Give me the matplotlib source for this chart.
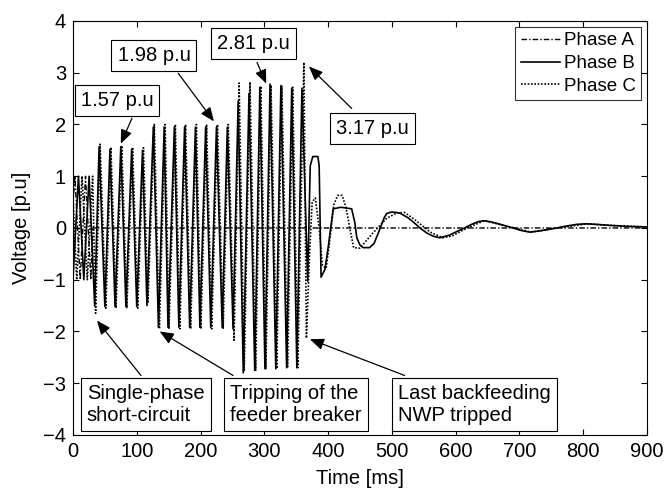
import matplotlib
matplotlib.use("Agg")
import matplotlib.pyplot as plt

plt.rcParams['font.family'] = ['Liberation Sans', 'DejaVu Sans']

#phase A: pre-fault sine then held at zero
time_a = [0, 3, 11.3, 19.7, 28, 31, 900]
volt_a = [0.45, 1.0, -1.0, 1.0, -1.0, 0.0, 0.0]

#phase B: extremes
time_b = [0, 8.6, 17, 25.3,
          34, 41, 50, 58, 66, 75, 83, 92, 100, 109, 116,
          126, 134, 143, 149, 159, 166, 175, 183, 192, 199, 208, 216, 225, 234, 242, 251,
          259, 267, 276, 285, 293, 301, 309, 318, 326, 335, 343, 351, 359,
          368, 372, 376, 384, 386, 389, 395, 400, 408, 420, 437, 442, 445, 450, 455, 465,
          472, 478, 484, 488, 492, 500, 512, 525, 535, 544, 555, 565, 575, 590, 600,
          614, 625, 635, 643, 655, 670, 690, 703, 716, 730, 745, 758, 775, 790, 805,
          820, 842, 870, 900]
volt_b = [-1.0, 1.0, -1.0, 1.0,
          -1.5, 1.57, -1.52, 1.52, -1.52, 1.57, -1.52, 1.52, -1.52, 1.5, -1.5,
          1.95, -1.92, 1.95, -1.92, 1.95, -1.92, 1.95, -1.92, 1.95, -1.92, 1.95, -1.92, 1.95, -1.92, 1.95, -1.95,
          2.45, -2.8, 2.6, -2.75, 2.72, -2.72, 2.78, -2.72, 2.75, -2.7, 2.7, -2.7, 2.7,
          -1.03, 1.2, 1.38, 1.38, 1.2, -0.95, -0.8, -0.39, 0.37, 0.4, 0.37, 0.1, -0.19, -0.33, -0.38, -0.38,
          -0.3, -0.12, 0.07, 0.2, 0.28, 0.31, 0.29, 0.2, 0.1, 0.0, -0.1, -0.16, -0.19, -0.14, -0.08,
          0.0, 0.07, 0.12, 0.14, 0.12, 0.07, 0.0, -0.05, -0.08, -0.06, -0.03, 0.0, 0.04, 0.07, 0.08,
          0.07, 0.05, 0.03, 0.02]

#phase C: extremes
time_c = [0, 5.9, 14.2, 22.5, 30.8,
          35.5, 42.5, 51.5, 59.5, 67.5, 76.5, 84.5, 93.5, 101.5, 110.5, 117.5,
          127.5, 135.5, 144.5, 150.5, 160.5, 167.5, 176.5, 184.5, 193.5, 200.5, 209.5, 217.5, 226.5, 235.5, 243.5, 252.5,
          260.5, 268.5, 277.5, 286.5, 294.5, 302.5, 310.5, 319.5, 327.5, 336.5, 344.5, 352.5, 362,
          366, 371, 375, 380, 386, 391, 397, 403, 409, 415, 422, 428, 434, 440, 450,
          470, 492, 508, 520, 535, 549, 560, 580, 595, 618, 645, 692, 718, 760, 806, 842, 900]
volt_c = [0.6, -1.0, 1.0, -1.0, 1.0,
          -1.65, 1.62, -1.55, 1.56, -1.55, 1.59, -1.55, 1.56, -1.55, 1.55, -1.45,
          2.0, -1.95, 2.0, -1.95, 2.0, -1.95, 2.0, -1.95, 2.0, -1.95, 2.0, -1.95, 2.0, -1.95, 2.0, -2.17,
          2.8, -2.75, 2.82, -2.75, 2.74, -2.72, 2.76, -2.72, 2.74, -2.7, 2.72, -2.7, 3.2,
          -2.13, -0.5, 0.5, 0.58, 0.0, -0.72, -0.78, -0.2, 0.45, 0.63, 0.63, 0.4, 0.0, -0.38, -0.39,
          -0.1, 0.19, 0.29, 0.3, 0.17, 0.03, -0.08, -0.19, -0.15, 0.0, 0.14, 0.0, -0.08, 0.0, 0.08, 0.05, 0.02]

fig = plt.figure(figsize=(6.67, 4.92), dpi=100)
ax = fig.add_axes([0.1094, 0.1159, 0.8606, 0.8415])

ax.plot(time_a, volt_a, color='black', lw=1.0, linestyle=(0, (4, 1.5, 1, 1.5)), label='Phase A')
ax.plot(time_b, volt_b, color='black', lw=1.2, linestyle='-', label='Phase B')
ax.plot(time_c, volt_c, color='black', lw=1.2, linestyle=(0, (1, 1)), label='Phase C')

fs = 14.5
ax.set_xlim(0, 900)
ax.set_ylim(-4, 4)
ax.set_xticks(range(0, 901, 100))
ax.set_yticks(range(-4, 5))
ax.tick_params(direction='in', top=True, right=True, length=4, labelsize=fs, width=0.8, pad=5)
for s in ax.spines.values():
    s.set_linewidth(0.8)
ax.set_xlabel('Time [ms]', fontsize=fs, labelpad=6)
ax.set_ylabel('Voltage [p.u]', fontsize=fs, labelpad=9)

leg = ax.legend(loc='upper right', fontsize=13.5, frameon=True, fancybox=False,
                edgecolor='black', borderaxespad=0.3, handlelength=2.1,
                handletextpad=0.2, labelspacing=0.3, borderpad=0.3)
leg.get_frame().set_linewidth(0.8)

#text boxes
box = dict(boxstyle='square,pad=0.3', fc='white', ec='black', lw=0.8)
ax.text(69, 2.46, '1.57 p.u', fontsize=fs, ha='center', va='center', bbox=box, zorder=5)
ax.text(127, 3.34, '1.98 p.u', fontsize=fs, ha='center', va='center', bbox=box, zorder=5)
ax.text(283, 3.56, '2.81 p.u', fontsize=fs, ha='center', va='center', bbox=box, zorder=5)
ax.text(470, 1.93, '3.17 p.u', fontsize=fs, ha='center', va='center', bbox=box, zorder=5)
ax.text(114, -3.41, 'Single-phase\nshort-circuit', fontsize=fs, ha='center', va='center',
        multialignment='left', bbox=box, zorder=5, linespacing=1.2)
ax.text(350, -3.41, 'Tripping of the\nfeeder breaker', fontsize=fs, ha='center', va='center',
        multialignment='left', bbox=box, zorder=5, linespacing=1.2)
ax.text(630, -3.41, 'Last backfeeding\nNWP tripped', fontsize=fs, ha='center', va='center',
        multialignment='left', bbox=box, zorder=5, linespacing=1.2)

#arrows (tail -> tip)
arrow = dict(arrowstyle='-|>,head_length=0.6,head_width=0.25', color='black', lw=0.9,
             mutation_scale=14, shrinkA=0, shrinkB=0)
ax.annotate('', xy=(75, 1.63), xytext=(92.5, 2.12), arrowprops=arrow)
ax.annotate('', xy=(221, 2.06), xytext=(165, 2.99), arrowprops=arrow)
ax.annotate('', xy=(303, 2.79), xytext=(288.5, 3.2), arrowprops=arrow)
ax.annotate('', xy=(370, 3.12), xytext=(437, 2.31), arrowprops=arrow)
ax.annotate('', xy=(37.6, -1.79), xytext=(106.6, -2.85), arrowprops=arrow)
ax.annotate('', xy=(136, -2.0), xytext=(251, -2.85), arrowprops=arrow)
ax.annotate('', xy=(371.6, -2.15), xytext=(520, -2.85), arrowprops=arrow)

plt.savefig('out.png', dpi=100)
